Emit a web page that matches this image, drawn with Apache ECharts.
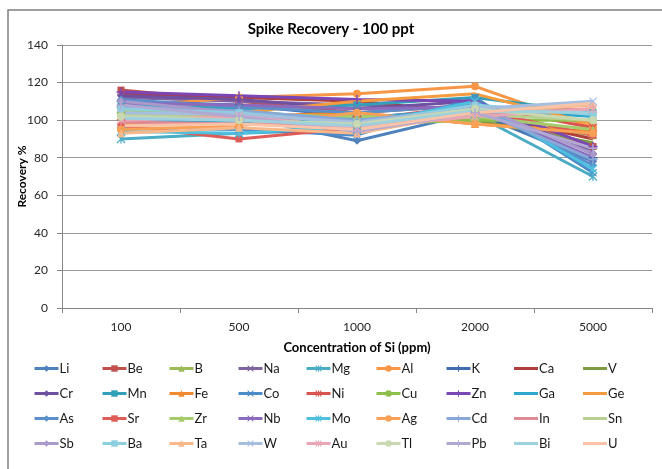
<!DOCTYPE html>
<html><head><meta charset="utf-8">
<script src="https://cdn.jsdelivr.net/npm/echarts@6/dist/echarts.min.js"></script>
<style>html,body{margin:0;padding:0;background:#fff}#c{width:662px;height:469px}</style>
</head><body><div id="c"></div>
<script>
const categories = ['100','500','1000','2000','5000'];
const elements = ['Li','Be','B','Na','Mg','Al','K','Ca','V','Cr','Mn','Fe','Co','Ni','Cu','Zn','Ga','Ge','As','Sr','Zr','Nb','Mo','Ag','Cd','In','Sn','Sb','Ba','Ta','W','Au','Tl','Pb','Bi','U'];
const Li=[104,102,89,104,78];
const Be=[116,110,104,108,86];
const B=[108,106,98,102,92];
const Na=[112,110,108,106,84];
const Mg=[90,93,95,103,70];
const Al=[107,112,114,118,96];
const K=[110,108,102,104,80];
const Ca=[114,112,110,104,90];
const V=[106,104,100,100,88];
const Cr=[113,111,106,110,82];
const Mn=[108,106,108,112,104];
const Fe=[98,102,104,98,94];
const Co=[96,95,92,112,72];
const Ni=[102,98,100,108,96];
const Cu=[104,102,98,100,100];
const Zn=[115,113,111,110,86];
const Ga=[100,99,101,106,102];
const Ge=[101,104,110,114,98];
const As=[111,107,104,108,76];
const Sr=[97,90,96,106,92];
const Zr=[105,103,102,102,95];
const Nb=[109,108,106,107,80];
const Mo=[94,93,97,110,74];
const Ag=[95,97,104,98,93];
const Cd=[107,105,100,106,79];
const In=[99,98,97,104,106];
const Sn=[103,101,96,103,100];
const Sb=[110,104,94,108,82];
const Ba=[106,104,98,108,103];
const Ta=[93,96,93,104,108];
const W=[104,103,99,106,110];
const Au=[100,102,96,102,106];
const Tl=[102,100,98,106,100];
const Pb=[108,102,94,104,85];
const Bi=[101,100,97,105,104];
const U=[97,98,95,104,109];
const values=[Li,Be,B,Na,Mg,Al,K,Ca,V,Cr,Mn,Fe,Co,Ni,Cu,Zn,Ga,Ge,As,Sr,Zr,Nb,Mo,Ag,Cd,In,Sn,Sb,Ba,Ta,W,Au,Tl,Pb,Bi,U];
const yTicks=[0,20,40,60,80,100,120,140];

const colors=['#4F81BD','#C0504D','#9BBB59','#8064A2','#4BACC6','#F79646',
'#3F6DB0','#B03E3B','#7E9B44','#7050A0','#31A0B8','#F08A30',
'#4A8BC8','#D9534F','#8DBF4A','#7B47B5','#2EA7CF','#F59B3F',
'#5B8FCC','#DE5B57','#A6CB6C','#8C6BBE','#4DBFDF','#F8A055',
'#88A8D8','#E08A96','#B8CF94','#A99ACB','#8DCFE0','#F9B88A',
'#A6BEE0','#E8A6B4','#C8D8B0','#B2A8D4','#9FD0DE','#F9C3A8'];
const X='path://M1,0L5,4L9,0L10,1L6,5L10,9L9,10L5,6L1,10L0,9L4,5L0,1Z';
const STAR='path://M1,0L5,4L9,0L10,1L6,5L10,9L9,10L5,6L1,10L0,9L4,5L0,1ZM4.3,0H5.7V10H4.3Z';
const PLUS='path://M4.2,0H5.8V4.2H10V5.8H5.8V10H4.2V5.8H0V4.2H4.2Z';
const DASH='path://M0,0H24V3H0Z';
const symbols=['diamond','rect','triangle',X,STAR,'circle',PLUS,'none','none'];
const sizes=[8,7,8,8,9,8,9,0,0];

const series=elements.map((n,i)=>({
  name:n,type:'line',data:values[i],
  symbol:symbols[i%9],symbolSize:sizes[i%9],
  lineStyle:{width:3,color:colors[i]},
  itemStyle:{color:colors[i]},
  emphasis:{disabled:true},animation:false
}));

const colX=[28,96,163,232,300,370,440,509,578];
const legends=colX.map((x,c)=>({
  orient:'vertical',left:x,top:357,itemWidth:24,itemHeight:8,itemGap:12,
  data:[0,9,18,27].map(o=>{const i=c+o;return (i%9>=7)?{name:elements[i],icon:DASH}:elements[i];}),
  lineStyle:{width:3},
  textStyle:{fontFamily:'Lato',fontSize:13,color:'#1a1a1a',padding:[0,0,0,-4]},
  selectedMode:false
}));

const chart=echarts.init(document.getElementById('c'),null,{renderer:'canvas'});
chart.setOption({
  backgroundColor:'#fff',
  animation:false,
  title:{text:'Spike Recovery - 100 ppt',left:'center',top:17,
    textStyle:{fontFamily:'Lato',fontSize:15,fontWeight:'bold',color:'#000'}},
  graphic:[{type:'rect',shape:{x:8,y:10,width:700,height:500},style:{fill:'none',stroke:'#7f7f7f',lineWidth:1.5},z:-1}],
  grid:{left:62,right:10,top:45,bottom:161},
  legend:legends,
  xAxis:{type:'category',data:categories,boundaryGap:true,
    name:'Concentration of Si (ppm)',nameLocation:'middle',nameGap:33,nameMoveOverlap:false,
    nameTextStyle:{fontFamily:'Lato',fontSize:13,fontWeight:'bold',color:'#000'},
    axisLine:{lineStyle:{color:'#868686',width:1}},
    axisTick:{show:true,alignWithLabel:false,length:5,lineStyle:{color:'#868686'}},
    axisLabel:{fontFamily:'Lato',fontSize:12,color:'#262626',margin:13}},
  yAxis:{type:'value',min:0,max:140,interval:20,
    name:'Recovery %',nameLocation:'middle',nameGap:34,nameMoveOverlap:false,
    nameTextStyle:{fontFamily:'Lato',fontSize:12,fontWeight:'bold',color:'#000'},
    axisLine:{show:true,lineStyle:{color:'#868686',width:1}},
    axisTick:{show:true,length:5,lineStyle:{color:'#868686'}},
    splitLine:{lineStyle:{color:'#9a9a9a',width:1}},
    axisLabel:{fontFamily:'Lato',fontSize:12,color:'#262626',margin:14,
      formatter:v=>yTicks.includes(v)?String(v):''}},
  series:series
});
</script></body></html>
